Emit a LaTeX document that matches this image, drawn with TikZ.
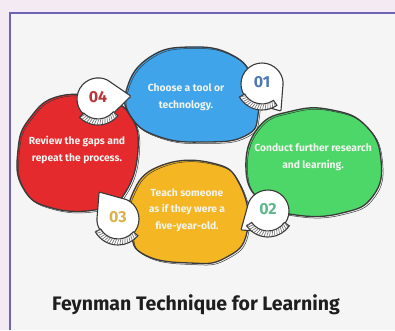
\documentclass[tikz,border=0pt]{standalone}
\usepackage{fontspec}
\setmainfont{Fira Sans}
\definecolor{outerbg}{HTML}{F3EAF3}
\definecolor{innerbg}{HTML}{F5F5F6}
\definecolor{framec}{HTML}{6E64B4}
\definecolor{bblue}{HTML}{3FA4EA}
\definecolor{bgreen}{HTML}{4DD768}
\definecolor{bred}{HTML}{E52A2D}
\definecolor{byellow}{HTML}{F4B623}
\definecolor{inkc}{HTML}{3A3A3A}
\definecolor{ropec}{HTML}{6A6A6A}
\definecolor{titlec}{HTML}{1E1E1E}
\definecolor{num1}{HTML}{4C78B5}
\definecolor{num2}{HTML}{5DB98A}
\definecolor{num3}{HTML}{D8B24A}
\definecolor{num4}{HTML}{B8353A}
\definecolor{txtc}{HTML}{F2F4F0}
\tikzset{
  blobline/.style={draw=inkc, line width=1.3},
  blobsketch/.style={draw=inkc, line width=0.5},
  blobtext/.style={text=txtc, align=center, font=\fontsize{10.3}{16.5}\selectfont\bfseries},
  numtext/.style={font=\fontsize{16}{17}\selectfont\bfseries},
  badgeline/.style={draw=inkc, line width=1.1},
}
% #1 center, #2 tip angle, #3 band start, #4 band end, #5 colour, #6 text, #7 name
\newcommand\mybadge[7]{%
  \begin{scope}[shift={#1}]
    \filldraw[fill=white, badgeline, rounded corners=1pt] (#2:33) -- ({#2+47}:21) arc[start angle={#2+47}, end angle={#2+313}, radius=21] -- cycle;
    \filldraw[fill=white, badgeline] (#3:20) arc[start angle=#3, end angle=#4, radius=20] -- (#4:26) arc[start angle=#4, end angle=#3, radius=26] -- cycle;
    \foreach \a in {#3,...,#4} {\pgfmathparse{mod(\a-#3,6)==0}\ifnum\pgfmathresult=1 \draw[ropec, line width=0.6] (\a:20.5) -- ({\a+4}:25.5);\fi}
    \node[numtext, text=#5] (#7) at (0,-2) {#6};
  \end{scope}}
\begin{document}
\begin{tikzpicture}[x=1pt,y=-1pt]
\useasboundingbox (0,0) rectangle (395,330);
\fill[outerbg] (0,0) rectangle (395,330);
\fill[innerbg] (10,13) rectangle (395,330);
\draw[framec, line width=1.8] (10,330) -- (10,13) -- (395,13);

% red
\filldraw[fill=bred, blobline] plot[smooth cycle, tension=0.8] coordinates {(60,96) (30,118) (18,150) (23,188) (52,208) (100,209) (125,193) (138,150) (130,115) (105,100)};
\draw[blobsketch, shift={(1.5,1.5)}] plot[smooth cycle, tension=0.8] coordinates {(60,96) (30,118) (18,150) (23,188) (52,208) (100,209) (125,193) (138,150) (130,115) (105,100)};
% yellow
\filldraw[fill=byellow, blobline] plot[smooth cycle, tension=0.8] coordinates {(160,166) (212,163) (240,185) (247,232) (225,258) (190,263) (145,255) (131,232) (132,195)};
\draw[blobsketch, shift={(1.5,1.5)}] plot[smooth cycle, tension=0.8] coordinates {(160,166) (212,163) (240,185) (247,232) (225,258) (190,263) (145,255) (131,232) (132,195)};
% green
\filldraw[fill=bgreen, blobline] plot[smooth cycle, tension=0.8] coordinates {(258,128) (292,111) (332,110) (366,126) (381,160) (373,196) (342,213) (296,215) (262,202) (246,170)};
\draw[blobsketch, shift={(1.5,1.5)}] plot[smooth cycle, tension=0.8] coordinates {(258,128) (292,111) (332,110) (366,126) (381,160) (373,196) (342,213) (296,215) (262,202) (246,170)};
% blue
\filldraw[fill=bblue, blobline] plot[smooth cycle, tension=0.8] coordinates {(150,57) (190,47) (232,55) (253,80) (258,115) (245,136) (205,142) (160,137) (131,117) (127,88)};
\draw[blobsketch, shift={(1.5,1.5)}] plot[smooth cycle, tension=0.8] coordinates {(150,57) (190,47) (232,55) (253,80) (258,115) (245,136) (205,142) (160,137) (131,117) (127,88)};

\node[blobtext] (t1) at (186,97) {Choose a tool or\\technology.};
\node[blobtext] (t2) at (313,157) {Conduct further research\\and learning.};
\node[blobtext] (t3) at (187,210) {Teach someone\\as if they were a\\five-year-old.};
\node[blobtext] (t4) at (77,150) {Review the gaps and\\repeat the process.};

\mybadge{(262,84)}{55}{55}{150}{num1}{01}{n1}
\mybadge{(98,99)}{-5}{40}{135}{num4}{04}{n4}
\mybadge{(268,211)}{145}{35}{145}{num2}{02}{n2}
\mybadge{(118,219)}{-125}{40}{150}{num3}{03}{n3}

\node[font=\fontsize{19.5}{21}\selectfont\bfseries, text=titlec] (title) at (196,305) {Feynman Technique for Learning};
\end{tikzpicture}
\end{document}
